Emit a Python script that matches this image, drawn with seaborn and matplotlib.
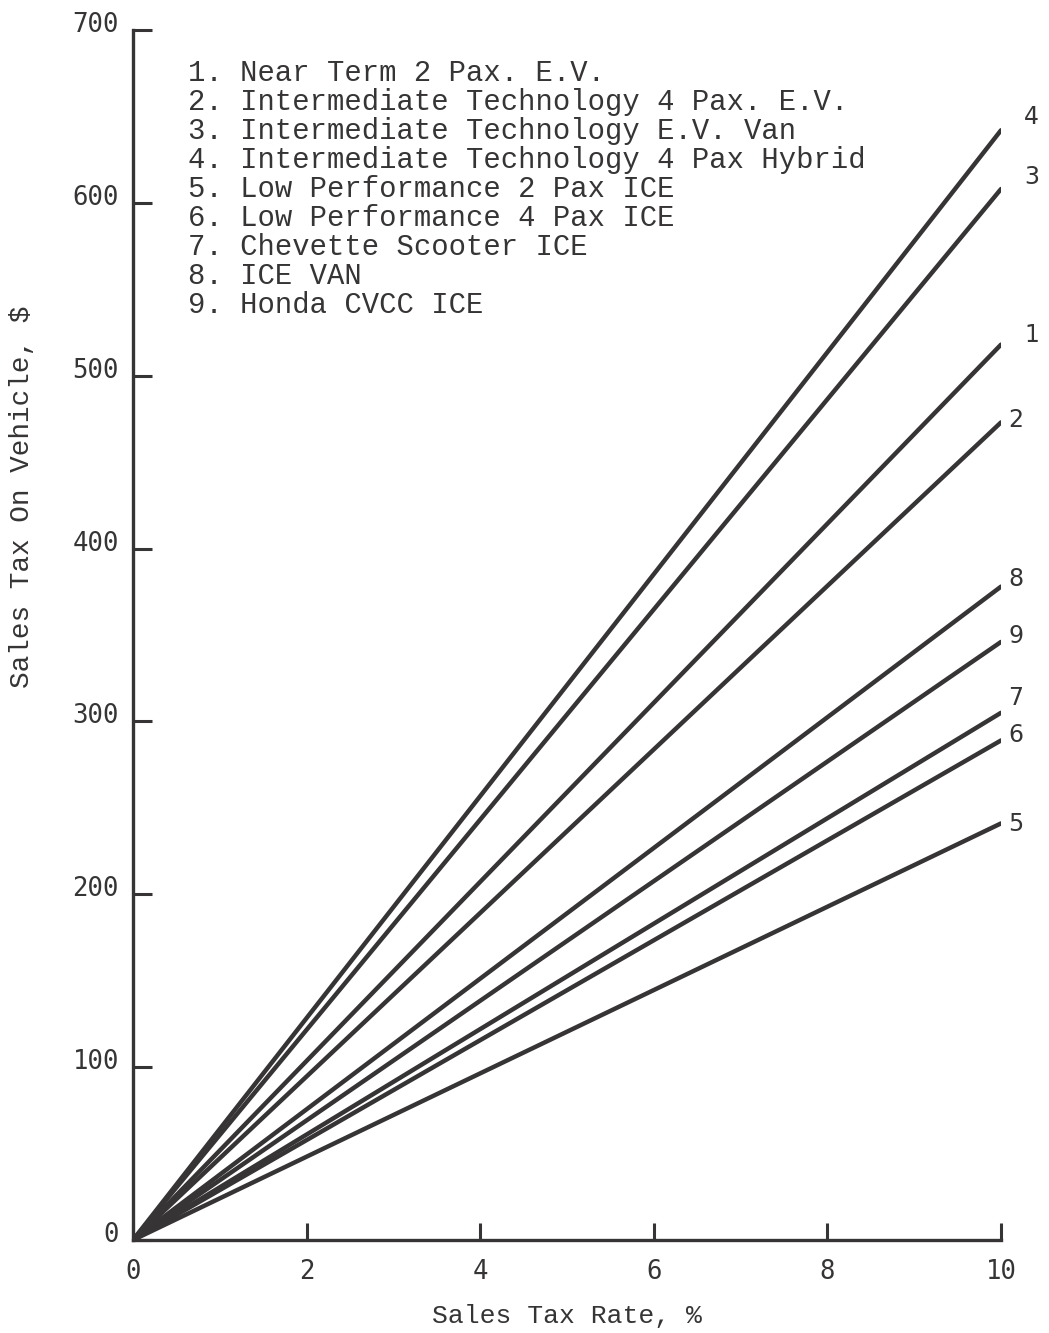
import matplotlib
matplotlib.use("Agg")
import matplotlib.pyplot as plt
import matplotlib.transforms as mtransforms
import numpy as np
import pandas as pd
import seaborn as sns

# Vehicle categories (curve number -> description)
curve_ids = ["1", "2", "3", "4", "5", "6", "7", "8", "9"]
vehicle_names = [
    "Near Term 2 Pax. E.V.",
    "Intermediate Technology 4 Pax. E.V.",
    "Intermediate Technology E.V. Van",
    "Intermediate Technology 4 Pax Hybrid",
    "Low Performance 2 Pax ICE",
    "Low Performance 4 Pax ICE",
    "Chevette Scooter ICE",
    "ICE VAN",
    "Honda CVCC ICE",
]
# Sales tax ($) at a 10 % rate; tax is proportional to the rate
tax_at_10pct = [518, 473, 608, 642, 241, 289, 305, 378, 346]
rate_points = [0, 10]

x_ticks = [0, 2, 4, 6, 8, 10]
y_ticks = [0, 100, 200, 300, 400, 500, 600, 700]

rows = []
for cid, top in zip(curve_ids, tax_at_10pct):
    for r in rate_points:
        rows.append({"curve": cid, "rate": r, "tax": top * r / rate_points[-1]})
df = pd.DataFrame(rows)

sns.set_theme(style="white")
ink = "#363434"
mono = ["DejaVu Sans Mono"]
typewriter = ["Liberation Mono"]

fig = plt.figure(figsize=(10.49, 13.33), dpi=100)
W, H = 1049, 1333
ax = fig.add_axes([133 / W, 1 - 1240 / H, (1001 - 133) / W, (1240 - 30) / H])

sns.lineplot(data=df, x="rate", y="tax", hue="curve",
             palette=[ink] * len(curve_ids), linewidth=3.2,
             legend=False, ax=ax, solid_capstyle="round")

ax.set_xlim(0, 10)
ax.set_ylim(0, 700)
ax.set_xticks(x_ticks)
ax.set_yticks(y_ticks)
ax.set_xticklabels([str(v) for v in x_ticks], family=mono, fontsize=18.5, color=ink)
ax.set_yticklabels([str(v) for v in y_ticks], family=mono, fontsize=18.5, color=ink)
ax.tick_params(axis="y", left=True, direction="in", length=14, width=2.2, color=ink, pad=10)
ax.tick_params(axis="x", bottom=True, direction="in", length=12.5, width=2.2, color=ink, pad=14)

# nudge y tick labels slightly above their ticks
shift = mtransforms.ScaledTranslation(0, 8 / 100, fig.dpi_scale_trans)
for lab in ax.get_yticklabels():
    lab.set_transform(lab.get_transform() + shift)

for side in ("top", "right"):
    ax.spines[side].set_visible(False)
for side in ("left", "bottom"):
    ax.spines[side].set_color(ink)
    ax.spines[side].set_linewidth(2.4)
ax.set_xlabel("")
ax.set_ylabel("")
ax.grid(False)

fig.text(567 / W, 1 - 1316 / H, "Sales Tax Rate, %", family=typewriter, fontsize=19,
         color=ink, ha="center", va="center")
fig.text(22 / W, 1 - 497 / H, "Sales Tax On Vehicle, $", family=typewriter, fontsize=20,
         color=ink, ha="center", va="center", rotation=90)

# curve numbers at the right-hand end of each line (offsets in pixels)
end_label_dx = {"4": 23, "3": 23, "1": 23, "2": 7, "8": 7, "9": 7, "7": 7, "6": 7, "5": 7}
end_label_dy = {"4": 13, "3": 12, "1": 10, "2": 2, "8": 8, "9": 6, "7": 15, "6": 5, "5": -1}
for cid, top in zip(curve_ids, tax_at_10pct):
    off = mtransforms.offset_copy(ax.transData, fig=fig,
                                  x=end_label_dx[cid], y=end_label_dy[cid],
                                  units="dots")
    ax.text(10, top, cid, transform=off, family=["DejaVu Sans"], fontsize=17,
            color=ink, ha="left", va="center", clip_on=False)

# numbered key
for i, (cid, name) in enumerate(zip(curve_ids, vehicle_names)):
    fig.text(188 / W, 1 - (73 + 29 * i) / H, f"{cid}. {name}",
             family=typewriter, fontsize=20.8, color=ink,
             ha="left", va="center")

fig.savefig("out.png", dpi=100, facecolor="white")
